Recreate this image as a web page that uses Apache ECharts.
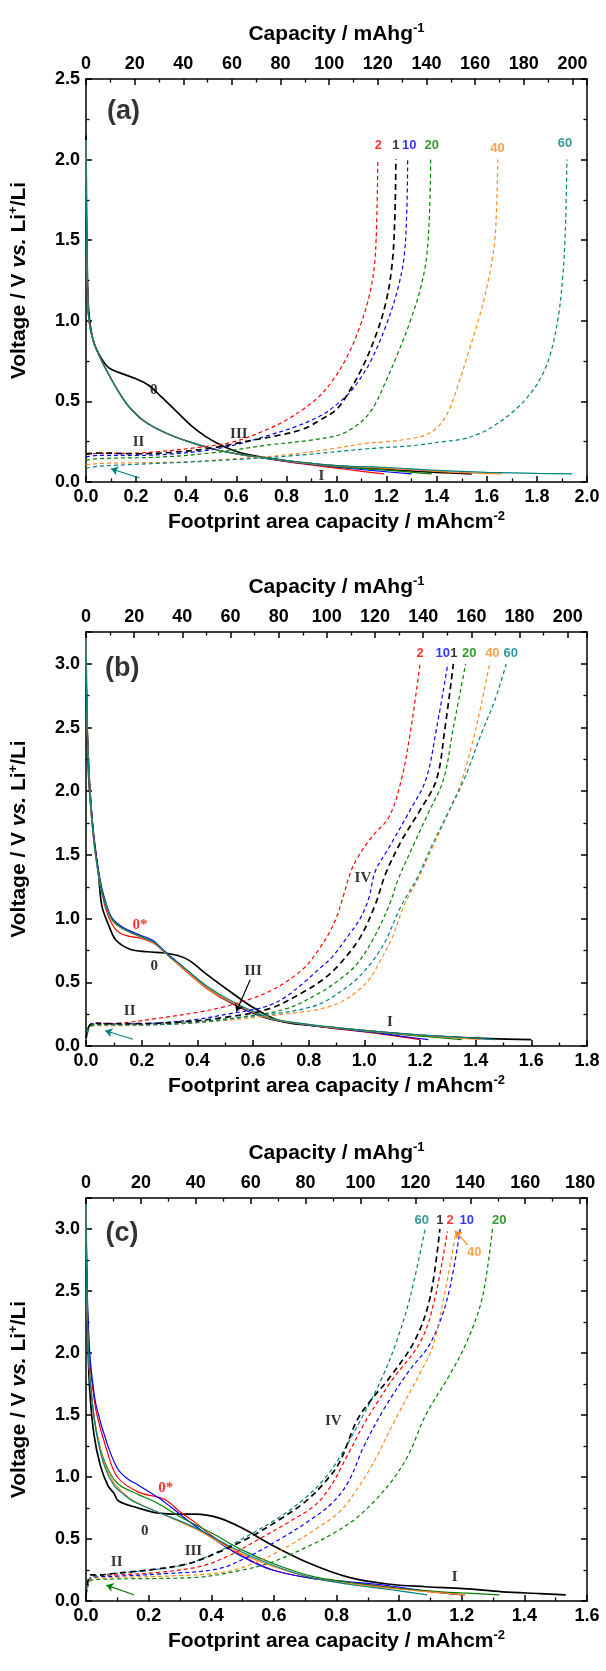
<!DOCTYPE html>
<html>
<head>
<meta charset="utf-8">
<title>Voltage profiles (a)-(c)</title>
<script src="https://cdn.jsdelivr.net/npm/echarts@6/dist/echarts.min.js"></script>
<style>
  html, body { margin: 0; padding: 0; background: #fff; }
  #chart { width: 606px; height: 1671px; }
</style>
</head>
<body>
<div id="chart"></div>
<script>
// cycle colours
const colors = { c1: "#000000", c2: "#ff0000", c10: "#0000ff", c20: "#008000", c40: "#ff8a1c", c60: "#008080" };

// axis ranges per panel: [footprint max, gravimetric max, voltage max]
const footprintMax = [2.0, 1.8, 1.6];
const capacityMax = [206, 208, 182.5];
const voltageMax = [2.5, 3.25, 3.25];

// ---------- panel (a) ----------
const aDis0 = [[0,2.15],[0.002,1.7],[0.005,1.32],[0.01,1.08],[0.02,0.94],[0.035,0.85],[0.06,0.77],[0.09,0.71],[0.13,0.68],[0.2,0.64],[0.25,0.6],[0.3,0.53],[0.36,0.44],[0.42,0.35],[0.48,0.28],[0.55,0.22],[0.62,0.18],[0.73,0.148],[0.85,0.122],[1.0,0.1],[1.2,0.078],[1.4,0.06],[1.54,0.05]];
const aDis2 = [[0,2.12],[0.002,1.6],[0.006,1.2],[0.012,1.0],[0.03,0.87],[0.06,0.76],[0.09,0.67],[0.13,0.56],[0.17,0.47],[0.23,0.38],[0.31,0.31],[0.4,0.255],[0.52,0.2],[0.62,0.17],[0.73,0.143],[0.85,0.115],[1.0,0.086],[1.1,0.066],[1.19,0.05]];
const aDis10 = [[0,2.12],[0.002,1.6],[0.006,1.2],[0.012,1.0],[0.03,0.87],[0.06,0.76],[0.09,0.67],[0.13,0.56],[0.17,0.47],[0.23,0.38],[0.31,0.31],[0.4,0.255],[0.52,0.2],[0.62,0.17],[0.73,0.144],[0.85,0.118],[1.0,0.092],[1.15,0.07],[1.3,0.05]];
const aDis20 = [[0,2.12],[0.002,1.6],[0.006,1.2],[0.012,1.0],[0.03,0.87],[0.06,0.76],[0.09,0.67],[0.13,0.56],[0.17,0.47],[0.23,0.38],[0.31,0.31],[0.4,0.255],[0.52,0.2],[0.62,0.17],[0.73,0.145],[0.85,0.12],[1.0,0.095],[1.2,0.074],[1.38,0.05]];
const aDis40 = [[0,2.12],[0.002,1.6],[0.006,1.2],[0.012,1.0],[0.03,0.87],[0.06,0.76],[0.09,0.67],[0.13,0.56],[0.17,0.47],[0.23,0.38],[0.31,0.31],[0.4,0.255],[0.52,0.2],[0.62,0.17],[0.73,0.146],[0.85,0.122],[1.0,0.1],[1.2,0.085],[1.4,0.066],[1.55,0.055],[1.66,0.05]];
const aDis60 = [[0,2.12],[0.002,1.6],[0.006,1.2],[0.012,1.0],[0.03,0.87],[0.06,0.76],[0.09,0.67],[0.13,0.56],[0.17,0.47],[0.23,0.38],[0.31,0.31],[0.4,0.255],[0.52,0.2],[0.62,0.17],[0.73,0.147],[0.85,0.124],[1.0,0.102],[1.2,0.09],[1.4,0.072],[1.6,0.06],[1.8,0.053],[1.94,0.05]];

const aChg1 = [[0,0.175],[0.05,0.18],[0.2,0.175],[0.35,0.185],[0.5,0.21],[0.65,0.255],[0.77,0.29],[0.87,0.33],[0.94,0.39],[1.0,0.45],[1.05,0.56],[1.1,0.7],[1.15,0.88],[1.195,1.1],[1.222,1.35],[1.233,1.65],[1.237,2.0]];
const aChg2 = [[0,0.17],[0.05,0.178],[0.17,0.178],[0.3,0.19],[0.45,0.215],[0.59,0.25],[0.73,0.33],[0.8,0.385],[0.87,0.455],[0.93,0.53],[0.98,0.62],[1.04,0.77],[1.09,0.95],[1.13,1.15],[1.152,1.35],[1.161,1.65],[1.165,2.0]];
const aChg10 = [[0,0.155],[0.05,0.165],[0.2,0.165],[0.35,0.175],[0.5,0.2],[0.62,0.24],[0.73,0.29],[0.84,0.345],[0.94,0.414],[1.0,0.48],[1.05,0.55],[1.09,0.63],[1.14,0.76],[1.2,0.98],[1.245,1.2],[1.27,1.4],[1.281,1.7],[1.284,2.0]];
const aChg20 = [[0,0.135],[0.05,0.145],[0.3,0.155],[0.5,0.18],[0.73,0.23],[0.9,0.26],[1.006,0.29],[1.06,0.33],[1.11,0.39],[1.15,0.47],[1.19,0.6],[1.24,0.78],[1.295,1.0],[1.335,1.2],[1.36,1.4],[1.372,1.7],[1.376,2.0]];
const aChg40 = [[0,0.105],[0.05,0.115],[0.4,0.125],[0.6,0.145],[0.8,0.168],[1.0,0.21],[1.117,0.24],[1.2,0.25],[1.28,0.265],[1.353,0.29],[1.41,0.35],[1.45,0.45],[1.485,0.6],[1.53,0.82],[1.575,1.05],[1.61,1.28],[1.632,1.5],[1.64,1.75],[1.644,2.0]];
const aChg60 = [[0,0.085],[0.05,0.098],[0.45,0.127],[0.8,0.16],[1.145,0.209],[1.3,0.225],[1.423,0.25],[1.5,0.265],[1.57,0.3],[1.63,0.35],[1.7,0.43],[1.77,0.54],[1.82,0.66],[1.855,0.8],[1.885,1.02],[1.902,1.25],[1.912,1.5],[1.917,1.75],[1.92,2.0]];

// ---------- panel (b) ----------
const bDis0 = [[0,3.2],[0.003,2.6],[0.01,2.1],[0.025,1.7],[0.045,1.35],[0.057,1.1],[0.083,0.94],[0.108,0.83],[0.158,0.76],[0.22,0.74],[0.283,0.73],[0.33,0.71],[0.372,0.67],[0.435,0.56],[0.535,0.4],[0.61,0.29],[0.7,0.195],[0.8,0.163],[0.913,0.138],[1.05,0.112],[1.164,0.09],[1.3,0.072],[1.45,0.058],[1.6,0.05]];
const bDis2 = [[0,3.2],[0.003,2.65],[0.01,2.2],[0.02,1.85],[0.031,1.58],[0.045,1.36],[0.069,1.09],[0.095,0.95],[0.12,0.89],[0.158,0.86],[0.2,0.845],[0.24,0.81],[0.27,0.76],[0.3,0.7],[0.347,0.61],[0.435,0.45],[0.535,0.32],[0.66,0.21],[0.787,0.168],[0.9,0.135],[1.038,0.1],[1.12,0.075],[1.2,0.05]];
const bDis10 = [[0,3.2],[0.003,2.65],[0.01,2.2],[0.02,1.85],[0.031,1.58],[0.045,1.38],[0.057,1.24],[0.075,1.1],[0.095,1.0],[0.13,0.935],[0.195,0.87],[0.24,0.83],[0.27,0.77],[0.3,0.71],[0.347,0.625],[0.435,0.46],[0.535,0.325],[0.66,0.212],[0.787,0.168],[0.9,0.138],[1.038,0.105],[1.13,0.078],[1.23,0.05]];
const bDis20 = [[0,3.2],[0.003,2.62],[0.01,2.18],[0.02,1.83],[0.031,1.56],[0.045,1.36],[0.057,1.22],[0.075,1.09],[0.095,0.99],[0.13,0.925],[0.195,0.86],[0.24,0.82],[0.27,0.765],[0.3,0.7],[0.347,0.62],[0.435,0.46],[0.535,0.33],[0.66,0.215],[0.787,0.17],[0.9,0.14],[1.038,0.11],[1.2,0.078],[1.35,0.05]];
const bDis40 = [[0,3.2],[0.003,2.6],[0.01,2.15],[0.02,1.8],[0.031,1.55],[0.045,1.34],[0.057,1.2],[0.075,1.08],[0.095,0.98],[0.13,0.92],[0.195,0.855],[0.24,0.815],[0.27,0.76],[0.3,0.7],[0.347,0.615],[0.435,0.455],[0.535,0.33],[0.66,0.218],[0.787,0.172],[0.9,0.142],[1.038,0.112],[1.2,0.085],[1.32,0.065],[1.42,0.05]];
const bDis60 = [[0,3.2],[0.003,2.6],[0.01,2.15],[0.02,1.8],[0.031,1.55],[0.045,1.34],[0.057,1.2],[0.075,1.08],[0.095,0.99],[0.13,0.925],[0.195,0.86],[0.24,0.82],[0.27,0.765],[0.3,0.705],[0.347,0.625],[0.435,0.47],[0.535,0.34],[0.66,0.222],[0.787,0.174],[0.9,0.145],[1.038,0.115],[1.2,0.088],[1.35,0.068],[1.47,0.05]];

const bChg1 = [[0,0.06],[0.012,0.16],[0.03,0.178],[0.1,0.175],[0.2,0.176],[0.35,0.19],[0.5,0.225],[0.659,0.293],[0.784,0.427],[0.85,0.52],[0.91,0.64],[0.985,0.853],[1.041,1.12],[1.076,1.35],[1.133,1.61],[1.2,1.85],[1.259,2.09],[1.29,2.5],[1.32,3.0]];
const bChg2 = [[0,0.06],[0.012,0.16],[0.03,0.18],[0.1,0.176],[0.157,0.187],[0.25,0.215],[0.408,0.267],[0.5,0.31],[0.596,0.373],[0.66,0.43],[0.721,0.507],[0.787,0.62],[0.837,0.76],[0.872,0.88],[0.9,1.01],[0.925,1.18],[0.95,1.36],[0.976,1.48],[1.026,1.64],[1.089,1.8],[1.133,2.09],[1.168,2.5],[1.2,3.0]];
const bChg10 = [[0,0.06],[0.012,0.16],[0.03,0.177],[0.1,0.172],[0.25,0.18],[0.4,0.21],[0.533,0.26],[0.6,0.285],[0.66,0.32],[0.72,0.39],[0.784,0.5],[0.84,0.61],[0.885,0.7],[0.947,0.88],[0.985,1.0],[1.016,1.16],[1.039,1.37],[1.089,1.56],[1.164,1.85],[1.221,2.09],[1.26,2.5],[1.3,3.0]];
const bChg20 = [[0,0.06],[0.012,0.155],[0.03,0.17],[0.1,0.165],[0.25,0.17],[0.4,0.19],[0.55,0.225],[0.721,0.293],[0.847,0.427],[0.91,0.52],[0.972,0.64],[1.035,0.853],[1.092,1.12],[1.12,1.3],[1.177,1.58],[1.23,1.83],[1.284,2.09],[1.32,2.5],[1.364,3.0]];
const bChg40 = [[0,0.05],[0.012,0.14],[0.03,0.16],[0.1,0.16],[0.3,0.17],[0.5,0.2],[0.65,0.235],[0.75,0.26],[0.847,0.293],[0.92,0.35],[0.98,0.44],[1.02,0.53],[1.05,0.64],[1.1,0.85],[1.142,1.1],[1.195,1.32],[1.245,1.56],[1.3,1.82],[1.345,2.05],[1.385,2.35],[1.42,2.68],[1.45,3.0]];
const bChg60 = [[0,0.05],[0.012,0.14],[0.03,0.165],[0.1,0.165],[0.3,0.17],[0.45,0.195],[0.6,0.235],[0.7,0.26],[0.784,0.293],[0.85,0.34],[0.91,0.42],[0.97,0.52],[1.02,0.64],[1.05,0.73],[1.08,0.84],[1.13,1.09],[1.19,1.32],[1.24,1.56],[1.3,1.83],[1.36,2.1],[1.42,2.45],[1.47,2.72],[1.51,3.0]];

// ---------- panel (c) ----------
const cDis0 = [[0,3.2],[0.002,2.6],[0.006,2.1],[0.012,1.7],[0.025,1.35],[0.045,1.1],[0.07,0.93],[0.089,0.87],[0.104,0.806],[0.166,0.75],[0.227,0.71],[0.3,0.7],[0.35,0.7],[0.423,0.67],[0.497,0.59],[0.595,0.45],[0.717,0.3],[0.84,0.19],[0.962,0.137],[1.085,0.115],[1.207,0.1],[1.33,0.074],[1.45,0.06],[1.532,0.05]];
const cDis2 = [[0,3.2],[0.004,2.45],[0.012,1.95],[0.022,1.7],[0.035,1.5],[0.066,1.22],[0.1,1.0],[0.166,0.88],[0.25,0.82],[0.3,0.72],[0.35,0.63],[0.4,0.53],[0.47,0.41],[0.54,0.31],[0.61,0.24],[0.717,0.185],[0.84,0.15],[0.962,0.115],[1.08,0.08],[1.21,0.05]];
const cDis10 = [[0,3.2],[0.004,2.5],[0.012,2.0],[0.022,1.75],[0.033,1.57],[0.066,1.28],[0.1,1.07],[0.13,0.99],[0.166,0.936],[0.233,0.83],[0.27,0.76],[0.32,0.66],[0.38,0.55],[0.45,0.43],[0.52,0.33],[0.595,0.25],[0.717,0.185],[0.84,0.155],[0.962,0.125],[1.06,0.09],[1.2,0.05]];
const cDis20 = [[0,3.2],[0.003,2.4],[0.01,1.9],[0.02,1.6],[0.035,1.35],[0.06,1.12],[0.1,0.95],[0.166,0.86],[0.22,0.8],[0.3,0.68],[0.4,0.55],[0.5,0.41],[0.6,0.3],[0.72,0.2],[0.84,0.15],[0.962,0.11],[1.1,0.08],[1.2,0.065],[1.32,0.05]];
const cDis40 = [[0,3.2],[0.003,2.4],[0.01,1.9],[0.02,1.6],[0.035,1.35],[0.06,1.1],[0.09,0.95],[0.12,0.87],[0.153,0.806],[0.227,0.72],[0.35,0.58],[0.472,0.41],[0.595,0.28],[0.717,0.19],[0.84,0.14],[0.962,0.105],[1.09,0.075],[1.21,0.05]];
const cDis60 = [[0,3.2],[0.003,2.4],[0.01,1.9],[0.02,1.6],[0.035,1.33],[0.06,1.08],[0.09,0.93],[0.12,0.86],[0.153,0.8],[0.227,0.72],[0.35,0.59],[0.472,0.425],[0.595,0.29],[0.717,0.19],[0.84,0.135],[0.962,0.095],[1.09,0.05]];

const cChg1 = [[0,0.05],[0.008,0.18],[0.015,0.21],[0.04,0.21],[0.1,0.225],[0.2,0.25],[0.325,0.3],[0.42,0.39],[0.52,0.51],[0.62,0.66],[0.7,0.8],[0.76,0.95],[0.81,1.12],[0.864,1.45],[0.91,1.62],[0.963,1.78],[1.05,2.1],[1.099,2.45],[1.13,3.0]];
const cChg2 = [[0,0.05],[0.01,0.17],[0.02,0.2],[0.1,0.21],[0.25,0.235],[0.374,0.285],[0.46,0.37],[0.546,0.49],[0.65,0.64],[0.73,0.77],[0.78,0.92],[0.83,1.15],[0.886,1.42],[0.93,1.6],[0.974,1.77],[1.07,2.1],[1.115,2.45],[1.154,2.98]];
const cChg10 = [[0,0.05],[0.01,0.16],[0.02,0.19],[0.1,0.2],[0.25,0.22],[0.423,0.26],[0.52,0.36],[0.62,0.5],[0.72,0.66],[0.79,0.8],[0.84,0.97],[0.886,1.24],[0.952,1.55],[1.03,1.85],[1.1,2.08],[1.155,2.45],[1.195,3.0]];
const cChg20 = [[0,0.05],[0.01,0.15],[0.02,0.17],[0.104,0.178],[0.35,0.19],[0.5,0.25],[0.595,0.314],[0.717,0.45],[0.8,0.56],[0.864,0.67],[0.93,0.83],[0.98,0.98],[1.03,1.18],[1.085,1.5],[1.163,1.83],[1.218,2.1],[1.266,2.45],[1.298,3.0]];
const cChg40 = [[0,0.05],[0.01,0.16],[0.02,0.18],[0.1,0.19],[0.3,0.205],[0.448,0.235],[0.55,0.32],[0.644,0.44],[0.74,0.59],[0.81,0.72],[0.86,0.88],[0.919,1.12],[0.985,1.45],[1.063,1.82],[1.107,2.05],[1.143,2.45],[1.182,2.98]];
const cChg60 = [[0,0.05],[0.01,0.17],[0.02,0.2],[0.05,0.21],[0.104,0.225],[0.227,0.255],[0.325,0.3],[0.423,0.4],[0.52,0.53],[0.62,0.68],[0.7,0.83],[0.76,0.98],[0.808,1.15],[0.875,1.45],[0.94,1.77],[0.99,2.08],[1.035,2.45],[1.083,3.0]];

// annotations: [text, x, V, colour key, kind]
const aNotes = [["2",1.167,2.09,"c2","num"],["1",1.237,2.09,"c1","num"],["10",1.29,2.09,"c10","num"],["20",1.38,2.09,"c20","num"],["40",1.643,2.07,"c40","num"],["60",1.912,2.1,"c60","num"],
  ["0",0.27,0.57,"c1","roman"],["II",0.21,0.25,"c1","roman"],["III",0.61,0.3,"c1","roman"],["I",0.94,0.035,"c1","roman"],["(a)",0.15,2.3,"c1","panel"]];
const bNotes = [["2",1.2,3.08,"c2","num"],["10",1.282,3.08,"c10","num"],["1",1.322,3.08,"c1","num"],["20",1.377,3.08,"c20","num"],["40",1.46,3.08,"c40","num"],["60",1.526,3.08,"c60","num"],
  ["0*",0.194,0.95,"c2","roman"],["0",0.245,0.63,"c1","roman"],["II",0.157,0.27,"c1","roman"],["III",0.6,0.59,"c1","roman"],["I",1.092,0.19,"c1","roman"],["IV",0.995,1.32,"c1","roman"],["(b)",0.13,2.96,"c1","panel"]];
const cNotes = [["60",1.072,3.07,"c60","num"],["1",1.13,3.07,"c1","num"],["2",1.163,3.07,"c2","num"],["10",1.216,3.07,"c10","num"],["20",1.32,3.07,"c20","num"],["40",1.24,2.81,"c40","num"],
  ["0*",0.255,0.91,"c2","roman"],["0",0.188,0.56,"c1","roman"],["II",0.098,0.31,"c1","roman"],["III",0.343,0.4,"c1","roman"],["I",1.177,0.19,"c1","roman"],["IV",0.79,1.45,"c1","roman"],["(c)",0.115,2.96,"c1","panel"]];

// arrows: [x from, V from, x to, V to, colour key]
const aArrows = [[0.213,0.025,0.1,0.082,"c60"]];
const bArrows = [[0.59,0.52,0.54,0.27,"c1"],[0.169,0.053,0.069,0.12,"c60"]];
const cArrows = [[1.22,2.87,1.178,2.985,"c40"],[0.153,0.05,0.065,0.128,"c20"]];

const SANS = "Liberation Sans";
const SERIF = "Liberation Serif";

const grids = [
  { left: 86, top: 79, width: 501, height: 403 },
  { left: 86, top: 632, width: 501, height: 414 },
  { left: 86, top: 1198, width: 501, height: 403 },
];

const titleRich = {
  t: { fontFamily: SANS, fontWeight: "bold", fontSize: 21, color: "#000", lineHeight: 25 },
  i: { fontFamily: SANS, fontWeight: "bold", fontStyle: "italic", fontSize: 21, color: "#000", lineHeight: 25 },
  s: { fontFamily: SANS, fontWeight: "bold", fontSize: 13, color: "#000", lineHeight: 10, verticalAlign: "top" },
};

const lineAxis = { show: true, onZero: false, lineStyle: { color: "#000", width: 1.5 } };
const tickMajor = { show: true, inside: true, length: 6, lineStyle: { color: "#000", width: 1.5 } };
const tickMinor = { show: true, splitNumber: 2, length: 3.5, lineStyle: { color: "#000", width: 1.3 } };
const labelStyle = { fontFamily: SANS, fontWeight: "bold", fontSize: 18, color: "#000", margin: 6 };

const xAxes = [];
const yAxes = [];
grids.forEach((g, i) => {
  xAxes.push({
    type: "value", gridIndex: i, position: "bottom", min: 0, max: footprintMax[i], interval: 0.2,
    name: "{t|Footprint area capacity / mAhcm}{s|-2}", nameLocation: "middle", nameGap: 28,
    nameTextStyle: { rich: titleRich },
    axisLine: lineAxis, axisTick: tickMajor, minorTick: tickMinor, splitLine: { show: false },
    axisLabel: Object.assign({ formatter: (v) => v.toFixed(1) }, labelStyle),
  });
  xAxes.push({
    type: "value", gridIndex: i, position: "top", min: 0, max: capacityMax[i], interval: 20,
    name: "{t|Capacity / mAhg}{s|-1}", nameLocation: "middle", nameGap: 32,
    nameTextStyle: { rich: titleRich },
    axisLine: lineAxis, axisTick: tickMajor, minorTick: tickMinor, splitLine: { show: false },
    axisLabel: Object.assign({ formatter: (v) => String(Math.round(v)), showMaxLabel: false }, labelStyle),
  });
  yAxes.push({
    type: "value", gridIndex: i, position: "left", min: 0, max: voltageMax[i], interval: 0.5,
    name: "{t|Voltage / V }{i|vs.}{t| Li}{s|+}{t|/Li}", nameLocation: "middle", nameGap: 54,
    nameTextStyle: { rich: titleRich },
    axisLine: lineAxis, axisTick: tickMajor, minorTick: tickMinor, splitLine: { show: false },
    axisLabel: Object.assign({ formatter: (v) => v.toFixed(1), showMaxLabel: voltageMax[i] === 2.5 }, labelStyle),
  });
  yAxes.push({
    type: "value", gridIndex: i, position: "right", min: 0, max: voltageMax[i], interval: 0.5,
    axisLine: lineAxis, axisTick: tickMajor, minorTick: tickMinor, splitLine: { show: false },
    axisLabel: { show: false },
  });
});

function curve(panel, data, key, dashed) {
  const heavy = key === "c1";
  return {
    type: "line", xAxisIndex: panel * 2, yAxisIndex: panel * 2, data: data,
    showSymbol: false, symbol: "none", smooth: 0.35, silent: true,
    lineStyle: {
      color: colors[key],
      width: heavy ? 1.7 : 1.2,
      type: dashed ? (heavy ? [6, 4] : [4, 3]) : "solid",
    },
    z: dashed ? 3 : 2,
  };
}

const noteFont = {
  num: { fontFamily: SANS, fontWeight: "bold", fontSize: 13 },
  roman: { fontFamily: SERIF, fontWeight: "bold", fontSize: 15 },
  panel: { fontFamily: SANS, fontWeight: "bold", fontSize: 27 },
};

function notes(panel, items, arrows) {
  return {
    type: "scatter", xAxisIndex: panel * 2, yAxisIndex: panel * 2, silent: true, z: 5,
    symbolSize: 1, itemStyle: { color: "rgba(0,0,0,0)" },
    data: items.map((n) => ({
      name: n[0], value: [n[1], n[2]],
      label: Object.assign({ color: colors[n[3]] }, noteFont[n[4]]),
    })),
    label: { show: true, position: "inside", formatter: "{b}" },
    markLine: {
      silent: true, symbol: ["none", "arrow"], symbolSize: 7, animation: false,
      label: { show: false },
      data: arrows.map((a) => [
        { coord: [a[0], a[1]], lineStyle: { color: colors[a[4]], width: 1.2, type: "solid" } },
        { coord: [a[2], a[3]] },
      ]),
    },
  };
}

const series = [
  curve(0, aDis0, "c1", false), curve(0, aDis2, "c2", false), curve(0, aDis10, "c10", false),
  curve(0, aDis20, "c20", false), curve(0, aDis40, "c40", false), curve(0, aDis60, "c60", false),
  curve(0, aChg2, "c2", true), curve(0, aChg10, "c10", true), curve(0, aChg20, "c20", true),
  curve(0, aChg40, "c40", true), curve(0, aChg60, "c60", true), curve(0, aChg1, "c1", true),
  notes(0, aNotes, aArrows),

  curve(1, bDis0, "c1", false), curve(1, bDis2, "c2", false), curve(1, bDis10, "c10", false),
  curve(1, bDis20, "c20", false), curve(1, bDis40, "c40", false), curve(1, bDis60, "c60", false),
  curve(1, bChg2, "c2", true), curve(1, bChg10, "c10", true), curve(1, bChg20, "c20", true),
  curve(1, bChg40, "c40", true), curve(1, bChg60, "c60", true), curve(1, bChg1, "c1", true),
  notes(1, bNotes, bArrows),

  curve(2, cDis0, "c1", false), curve(2, cDis2, "c2", false), curve(2, cDis10, "c10", false),
  curve(2, cDis20, "c20", false), curve(2, cDis40, "c40", false), curve(2, cDis60, "c60", false),
  curve(2, cChg2, "c2", true), curve(2, cChg10, "c10", true), curve(2, cChg20, "c20", true),
  curve(2, cChg40, "c40", true), curve(2, cChg60, "c60", true), curve(2, cChg1, "c1", true),
  notes(2, cNotes, cArrows),
];

const chart = echarts.init(document.getElementById("chart"));
chart.setOption({
  backgroundColor: "#fff",
  animation: false,
  grid: grids.map((g) => Object.assign({ outerBoundsMode: "none", containLabel: false }, g)),
  xAxis: xAxes,
  yAxis: yAxes,
  series: series,
});
</script>
</body>
</html>
